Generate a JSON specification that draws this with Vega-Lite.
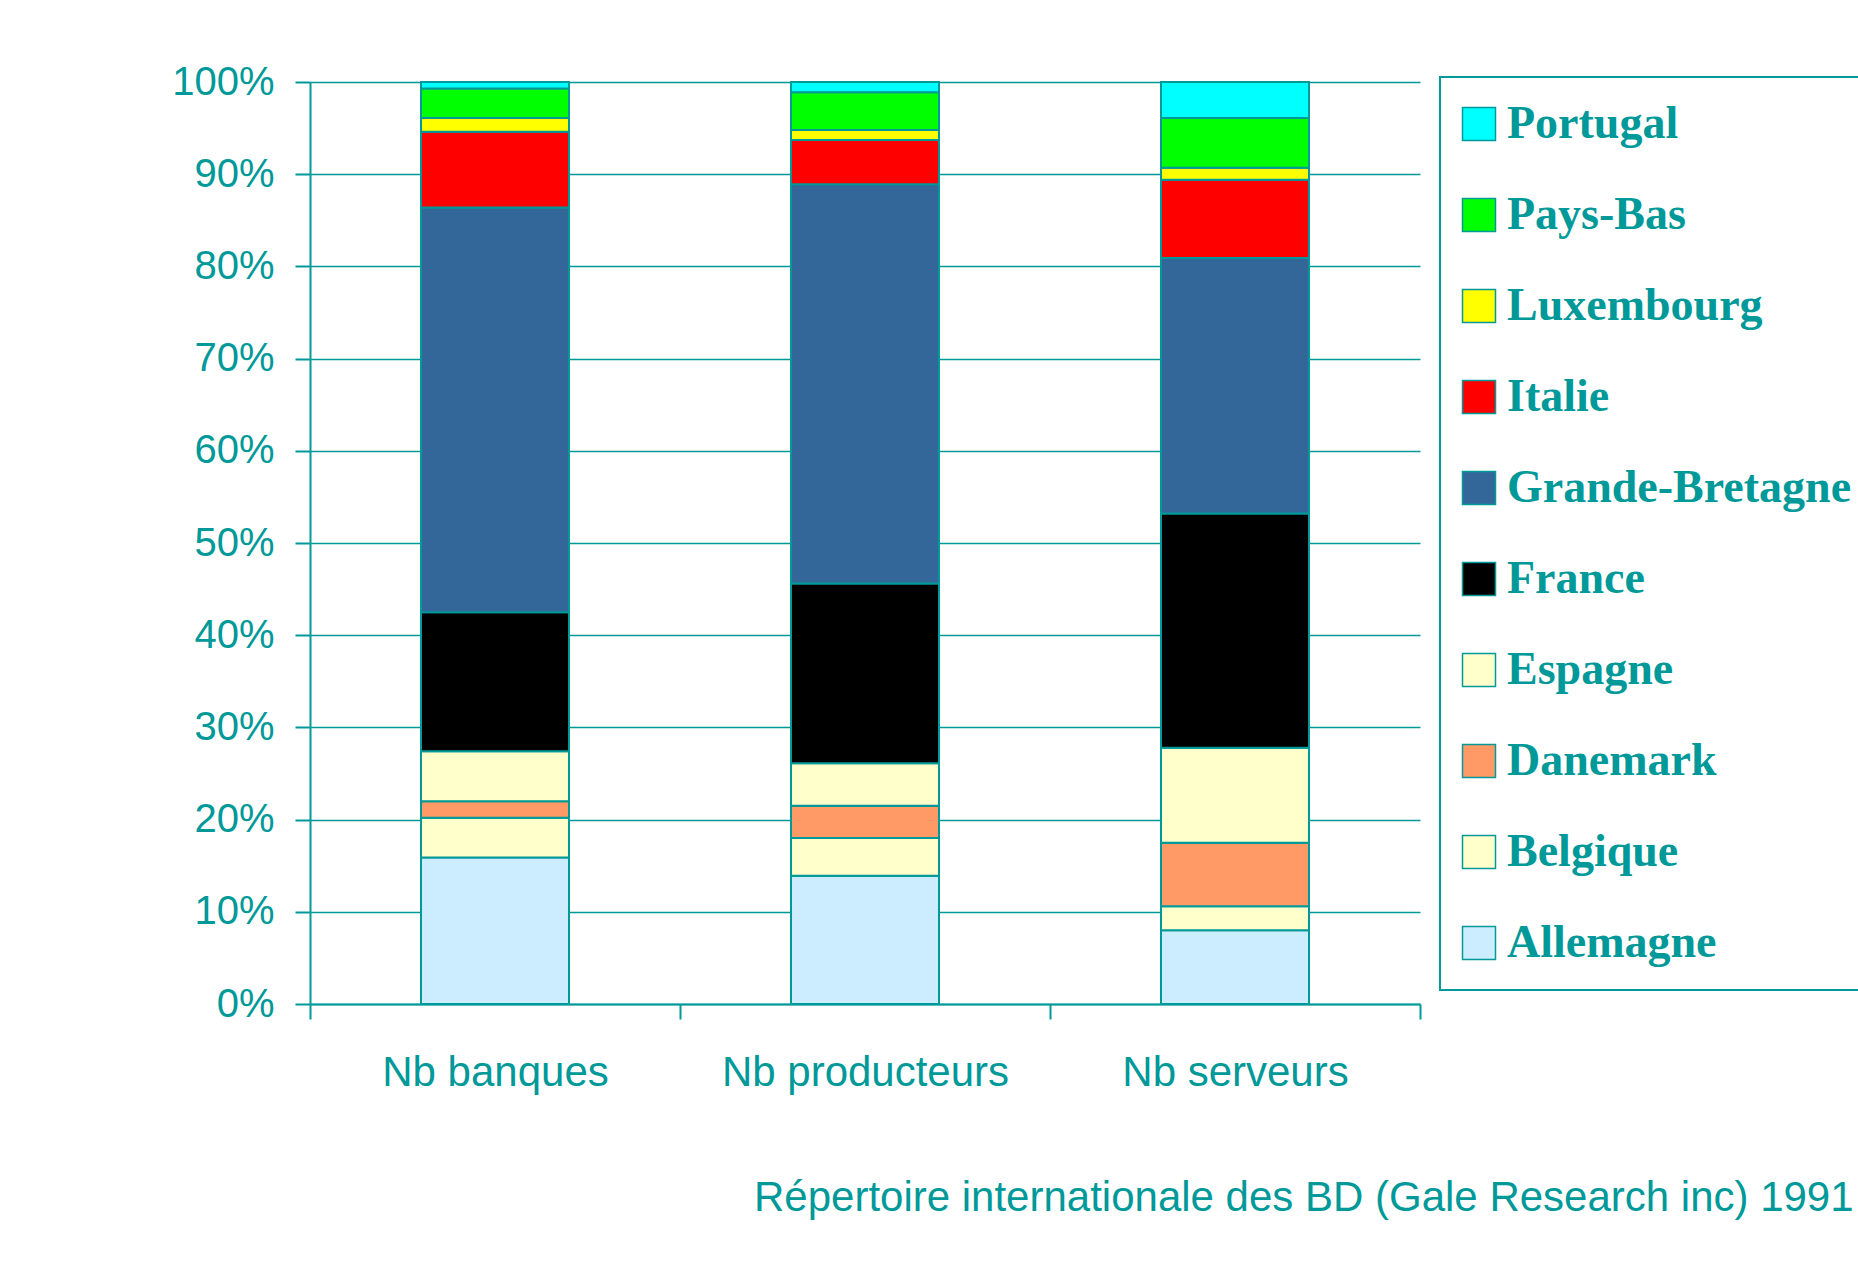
{
  "$schema": "https://vega.github.io/schema/vega-lite/v6.json",
  "autosize": "none",
  "padding": {"left": 310, "top": 82, "right": 438, "bottom": 263},
  "width": 1110,
  "height": 922,
  "background": "white",
  "config": {
    "view": {"stroke": null},
    "font": "Liberation Sans",
    "legend": {"strokeWidth": 2}
  },
  "title": {
    "text": "Répertoire internationale des BD (Gale Research inc) 1991",
    "orient": "bottom",
    "anchor": "start",
    "frame": "group",
    "dx": 444,
    "offset": 85,
    "font": "Liberation Sans",
    "fontSize": 42,
    "fontWeight": "normal",
    "color": "#009999"
  },
  "data": {
    "values": [
      {"mesure": "Nb banques", "pays": "Allemagne", "rang": 1, "valeur": 15.9},
      {"mesure": "Nb banques", "pays": "Belgique", "rang": 2, "valeur": 4.3},
      {"mesure": "Nb banques", "pays": "Danemark", "rang": 3, "valeur": 1.8},
      {"mesure": "Nb banques", "pays": "Espagne", "rang": 4, "valeur": 5.4},
      {"mesure": "Nb banques", "pays": "France", "rang": 5, "valeur": 15.1},
      {"mesure": "Nb banques", "pays": "Grande-Bretagne", "rang": 6, "valeur": 43.9},
      {"mesure": "Nb banques", "pays": "Italie", "rang": 7, "valeur": 8.2},
      {"mesure": "Nb banques", "pays": "Luxembourg", "rang": 8, "valeur": 1.5},
      {"mesure": "Nb banques", "pays": "Pays-Bas", "rang": 9, "valeur": 3.2},
      {"mesure": "Nb banques", "pays": "Portugal", "rang": 10, "valeur": 0.7},
      {"mesure": "Nb producteurs", "pays": "Allemagne", "rang": 1, "valeur": 13.9},
      {"mesure": "Nb producteurs", "pays": "Belgique", "rang": 2, "valeur": 4.1},
      {"mesure": "Nb producteurs", "pays": "Danemark", "rang": 3, "valeur": 3.5},
      {"mesure": "Nb producteurs", "pays": "Espagne", "rang": 4, "valeur": 4.6},
      {"mesure": "Nb producteurs", "pays": "France", "rang": 5, "valeur": 19.5},
      {"mesure": "Nb producteurs", "pays": "Grande-Bretagne", "rang": 6, "valeur": 43.3},
      {"mesure": "Nb producteurs", "pays": "Italie", "rang": 7, "valeur": 4.8},
      {"mesure": "Nb producteurs", "pays": "Luxembourg", "rang": 8, "valeur": 1.1},
      {"mesure": "Nb producteurs", "pays": "Pays-Bas", "rang": 9, "valeur": 4.1},
      {"mesure": "Nb producteurs", "pays": "Portugal", "rang": 10, "valeur": 1.1},
      {"mesure": "Nb serveurs", "pays": "Allemagne", "rang": 1, "valeur": 8.0},
      {"mesure": "Nb serveurs", "pays": "Belgique", "rang": 2, "valeur": 2.6},
      {"mesure": "Nb serveurs", "pays": "Danemark", "rang": 3, "valeur": 6.9},
      {"mesure": "Nb serveurs", "pays": "Espagne", "rang": 4, "valeur": 10.3},
      {"mesure": "Nb serveurs", "pays": "France", "rang": 5, "valeur": 25.4},
      {"mesure": "Nb serveurs", "pays": "Grande-Bretagne", "rang": 6, "valeur": 27.7},
      {"mesure": "Nb serveurs", "pays": "Italie", "rang": 7, "valeur": 8.5},
      {"mesure": "Nb serveurs", "pays": "Luxembourg", "rang": 8, "valeur": 1.3},
      {"mesure": "Nb serveurs", "pays": "Pays-Bas", "rang": 9, "valeur": 5.4},
      {"mesure": "Nb serveurs", "pays": "Portugal", "rang": 10, "valeur": 3.9}
    ]
  },
  "mark": {
    "type": "bar",
    "width": {"band": 0.4},
    "stroke": "#009999",
    "strokeWidth": 2
  },
  "encoding": {
    "x": {
      "field": "mesure",
      "type": "nominal",
      "sort": ["Nb banques", "Nb producteurs", "Nb serveurs"],
      "scale": {"paddingInner": 0, "paddingOuter": 0},
      "axis": {
        "title": null,
        "labelAngle": 0,
        "labelLimit": 0,
        "labelFont": "Liberation Sans",
        "labelFontSize": 42,
        "labelColor": "#009999",
        "labelPadding": 33,
        "tickBand": "extent",
        "tickSize": 15,
        "tickColor": "#009999",
        "tickWidth": 2,
        "domainColor": "#009999",
        "domainWidth": 2,
        "grid": false
      }
    },
    "y": {
      "field": "valeur",
      "type": "quantitative",
      "stack": "normalize",
      "scale": {"domain": [0, 1]},
      "axis": {
        "title": null,
        "values": [0, 0.1, 0.2, 0.3, 0.4, 0.5, 0.6, 0.7, 0.8, 0.9, 1],
        "format": ".0%",
        "labelFont": "Liberation Sans",
        "labelFontSize": 40,
        "labelColor": "#009999",
        "labelPadding": 21,
        "tickSize": 15,
        "tickColor": "#009999",
        "tickWidth": 2,
        "domainColor": "#009999",
        "domainWidth": 2,
        "grid": true,
        "gridColor": "#009999",
        "gridWidth": 1.5,
        "gridOpacity": 1
      }
    },
    "order": {"field": "rang", "type": "quantitative"},
    "color": {
      "field": "pays",
      "type": "nominal",
      "scale": {
        "domain": ["Portugal", "Pays-Bas", "Luxembourg", "Italie", "Grande-Bretagne", "France", "Espagne", "Danemark", "Belgique", "Allemagne"],
        "range": ["#00FFFF", "#00FF00", "#FFFF00", "#FF0000", "#336699", "#000000", "#FFFFCC", "#FF9966", "#FFFFCC", "#CCECFF"]
      },
      "legend": {
        "title": null,
        "orient": "none",
        "legendX": 1130,
        "legendY": -5,
        "padding": 24,
        "strokeColor": "#009999",
        "fillColor": "white",
        "symbolType": "square",
        "symbolSize": 1089,
        "symbolOffset": -8,
        "symbolStrokeColor": "#009999",
        "symbolStrokeWidth": 1.5,
        "symbolOpacity": 1,
        "labelFont": "Liberation Serif",
        "labelFontWeight": "bold",
        "labelFontSize": 46,
        "labelColor": "#009999",
        "labelOffset": 5,
        "labelLimit": 600,
        "rowPadding": 45
      }
    }
  }
}
